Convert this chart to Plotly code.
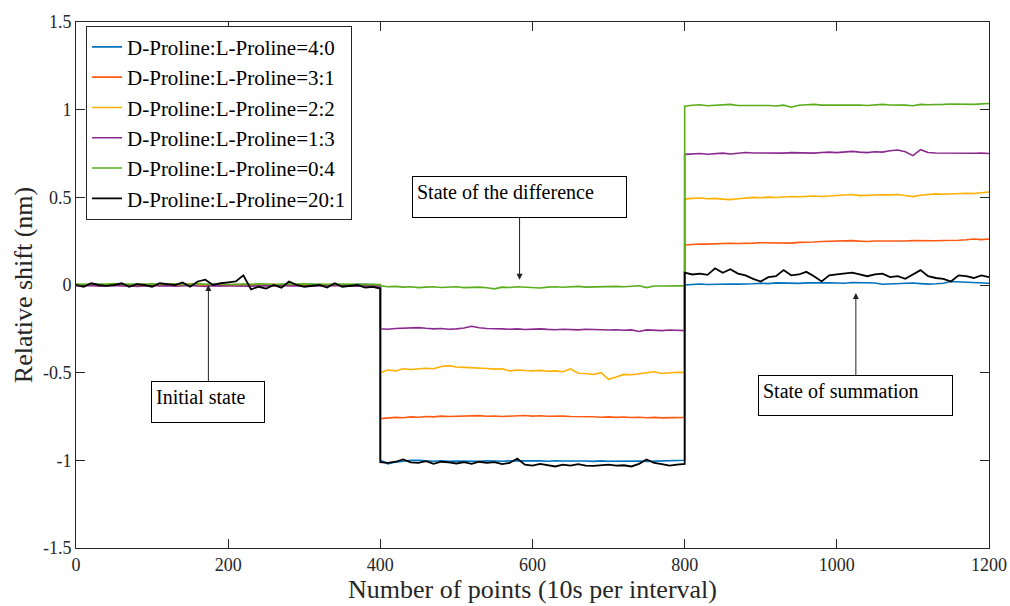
import plotly.graph_objects as go

# x positions (sampled every 10 points), three segments with vertical jumps at 400 and 800
x_seg1 = list(range(0, 401, 10))
x_seg2 = list(range(400, 801, 10))
x_seg3 = list(range(800, 1201, 10))

series_names = [
    "D-Proline:L-Proline=4:0",
    "D-Proline:L-Proline=3:1",
    "D-Proline:L-Proline=2:2",
    "D-Proline:L-Proline=1:3",
    "D-Proline:L-Proline=0:4",
    "D-Proline:L-Proline=20:1",
]
series_colors = ["#0072BD", "#FF5A14", "#FFB000", "#8B2A8E", "#5AAE1E", "#000000"]

# ---- 4:0 (blue)
blue1 = [0.0, 0.003, -0.002, 0.004, 0.001, -0.003, 0.002, 0.0, 0.005, -0.002, 0.003, 0.001, -0.004, 0.002, 0.004, 0.0, -0.003, 0.002, 0.001, -0.005, 0.003, 0.0, 0.002, -0.002, 0.004, 0.001, -0.003, 0.0, 0.003, -0.001, 0.002, 0.005, -0.002, 0.001, 0.003, 0.0, -0.002, 0.004, 0.001, 0.002, 0.0]
blue2 = [-1.0, -1.02, -1.01, -1.005, -1.0, -1.0, -1.003, -1.005, -1.002, -1.006, -1.004, -1.005, -1.003, -1.006, -1.002, -1.004, -1.005, -1.003, -1.002, -1.004, -1.001, -1.003, -1.005, -1.002, -1.004, -1.003, -1.005, -1.004, -1.006, -1.003, -1.005, -1.004, -1.006, -1.005, -1.004, -1.006, -1.005, -1.003, -1.005, -1.004, -1.0]
blue3 = [0.0, 0.004, 0.006, 0.003, 0.005, 0.008, 0.006, 0.005, 0.004, 0.007, 0.01, 0.008, 0.012, 0.01, 0.011, 0.009, 0.012, 0.01, 0.012, 0.013, 0.011, 0.01, 0.014, 0.012, 0.013, 0.011, 0.004, 0.006, 0.01, 0.012, 0.011, 0.008, 0.005, 0.007, 0.01, 0.02, 0.018, 0.012, 0.01, 0.011, 0.01]

# ---- 3:1 (orange)
orange1 = [0.0, -0.003, 0.002, 0.001, -0.002, 0.004, 0.0, -0.004, 0.002, 0.003, -0.001, 0.0, 0.003, -0.002, 0.001, 0.004, 0.0, -0.003, 0.002, 0.001, -0.002, 0.003, 0.0, 0.002, -0.003, 0.001, 0.004, -0.001, 0.0, 0.002, -0.002, 0.001, 0.003, 0.0, -0.003, 0.002, 0.001, -0.001, 0.003, 0.0, -0.002]
orange2 = [-0.762, -0.758, -0.755, -0.757, -0.752, -0.754, -0.75, -0.752, -0.748, -0.75, -0.749, -0.751, -0.748, -0.745, -0.749, -0.747, -0.75, -0.748, -0.745, -0.744, -0.748, -0.746, -0.749, -0.747, -0.748, -0.75, -0.749, -0.752, -0.751, -0.754, -0.752, -0.755, -0.753, -0.756, -0.754, -0.757, -0.755, -0.758, -0.756, -0.754, -0.755]
orange3 = [0.228, 0.232, 0.234, 0.233, 0.236, 0.235, 0.238, 0.237, 0.24, 0.239, 0.241, 0.24, 0.243, 0.241, 0.239, 0.243, 0.242, 0.245, 0.248, 0.25, 0.252, 0.251, 0.253, 0.25, 0.248, 0.251, 0.25, 0.252, 0.249, 0.251, 0.253, 0.252, 0.25, 0.252, 0.254, 0.253, 0.255, 0.258, 0.262, 0.259, 0.262]

# ---- 2:2 (yellow)
yellow1 = [0.002, 0.0, -0.003, 0.002, 0.004, -0.001, 0.001, 0.003, -0.002, 0.0, 0.002, -0.003, 0.001, 0.004, -0.001, 0.002, 0.0, 0.003, -0.002, 0.001, 0.002, -0.003, 0.004, 0.0, 0.001, -0.002, 0.003, 0.002, -0.001, 0.0, 0.003, -0.002, 0.001, 0.004, 0.0, -0.003, 0.002, 0.0, -0.001, 0.002, 0.0]
yellow2 = [-0.5, -0.485, -0.49, -0.478, -0.482, -0.48, -0.475, -0.478, -0.465, -0.46, -0.468, -0.47, -0.472, -0.47, -0.476, -0.48, -0.478, -0.49, -0.485, -0.488, -0.49, -0.487, -0.492, -0.49, -0.495, -0.478, -0.503, -0.505, -0.51, -0.5, -0.538, -0.525, -0.51, -0.512, -0.505, -0.5, -0.495, -0.505, -0.502, -0.498, -0.5]
yellow3 = [0.49, 0.494, 0.496, 0.492, 0.494, 0.49, 0.487, 0.492, 0.497, 0.5, 0.498, 0.501, 0.499, 0.503, 0.505, 0.503, 0.506, 0.508, 0.505, 0.508, 0.51, 0.512, 0.516, 0.51, 0.513, 0.512, 0.515, 0.514, 0.516, 0.51, 0.504, 0.512, 0.516, 0.52, 0.518, 0.521, 0.52, 0.523, 0.522, 0.526, 0.53]

# ---- 1:3 (purple)
purple1 = [-0.004, -0.006, -0.003, -0.007, -0.005, -0.002, -0.006, -0.004, -0.008, -0.005, -0.003, -0.006, -0.004, -0.007, -0.005, -0.003, -0.006, -0.008, -0.004, -0.005, -0.006, -0.003, -0.005, -0.007, -0.004, -0.006, -0.005, -0.003, -0.006, -0.004, -0.007, -0.005, -0.006, -0.004, -0.003, -0.006, -0.005, -0.007, -0.004, -0.006, -0.005]
purple2 = [-0.25, -0.252, -0.248, -0.245, -0.246, -0.243, -0.247, -0.25, -0.248, -0.252, -0.25, -0.245, -0.235, -0.244, -0.248, -0.247, -0.25, -0.252, -0.25, -0.254, -0.252, -0.25, -0.253, -0.255, -0.252, -0.254, -0.256, -0.252, -0.255, -0.254, -0.257, -0.255, -0.258, -0.256, -0.265, -0.256, -0.258, -0.26, -0.257, -0.258, -0.26]
purple3 = [0.745, 0.748, 0.75, 0.746, 0.749, 0.752, 0.747, 0.75, 0.756, 0.753, 0.752, 0.754, 0.75, 0.752, 0.755, 0.753, 0.754, 0.752, 0.756, 0.758, 0.755, 0.76, 0.762, 0.758, 0.755, 0.76, 0.758, 0.766, 0.77, 0.76, 0.738, 0.772, 0.756, 0.753, 0.752, 0.754, 0.75, 0.752, 0.751, 0.752, 0.75]

# ---- 0:4 (green)
green1 = [0.006, 0.004, 0.007, 0.003, 0.005, 0.008, 0.004, 0.006, 0.003, 0.005, 0.007, 0.004, 0.006, 0.005, 0.003, 0.006, 0.008, 0.004, 0.005, 0.007, 0.003, 0.005, 0.006, 0.004, 0.007, 0.005, 0.003, 0.006, 0.004, 0.005, 0.007, 0.004, 0.006, 0.003, 0.005, 0.004, 0.006, 0.003, 0.005, 0.004, 0.002]
green2 = [-0.005, -0.01, -0.008, -0.012, -0.01, -0.015, -0.012, -0.01, -0.014, -0.012, -0.01, -0.015, -0.013, -0.012, -0.016, -0.022, -0.012, -0.014, -0.01, -0.012, -0.015, -0.017, -0.012, -0.01, -0.013, -0.01, -0.008, -0.012, -0.01, -0.009, -0.006, -0.008, -0.01, -0.005, -0.004, -0.015, -0.006, -0.006, -0.004, -0.005, -0.005]
green3 = [1.02, 1.025, 1.028, 1.022, 1.024, 1.027, 1.03, 1.024, 1.025, 1.022, 1.026, 1.024, 1.021, 1.026, 1.014, 1.025, 1.028, 1.03, 1.026, 1.027, 1.028, 1.025, 1.026, 1.027, 1.024, 1.028, 1.03, 1.027, 1.028, 1.026, 1.022, 1.03, 1.028, 1.031, 1.03, 1.032, 1.031, 1.034, 1.03, 1.033, 1.035]

# ---- 20:1 (black)
black1 = [0.0, -0.01, 0.01, 0.0, -0.005, 0.0, 0.01, -0.01, 0.005, 0.0, -0.01, 0.01, 0.005, 0.0, 0.015, -0.01, 0.02, 0.03, 0.0, 0.01, 0.015, 0.02, 0.055, -0.025, -0.01, -0.02, 0.0, -0.015, 0.02, 0.0, -0.01, -0.005, 0.0, -0.015, 0.01, -0.01, -0.005, 0.0, -0.015, -0.01, -0.02]
black2 = [-1.01, -1.015, -1.008, -0.995, -1.012, -1.015, -1.005, -1.02, -1.008, -1.012, -1.018, -1.01, -1.02, -1.008, -1.015, -1.01, -1.022, -1.015, -0.99, -1.025, -1.03, -1.02, -1.028, -1.035, -1.025, -1.03, -1.022, -1.03, -1.032, -1.028, -1.025, -1.03, -1.028, -1.035, -1.02, -0.995, -1.015, -1.022, -1.03, -1.025, -1.02]
black3 = [0.07, 0.06, 0.065, 0.058, 0.095, 0.07, 0.09, 0.065, 0.055, 0.035, 0.02, 0.045, 0.05, 0.085, 0.055, 0.06, 0.075, 0.05, 0.02, 0.055, 0.06, 0.065, 0.07, 0.06, 0.05, 0.06, 0.065, 0.045, 0.05, 0.035, 0.06, 0.085, 0.05, 0.04, 0.035, 0.02, 0.055, 0.05, 0.04, 0.055, 0.045]

segments = [
    (blue1, blue2, blue3),
    (orange1, orange2, orange3),
    (yellow1, yellow2, yellow3),
    (purple1, purple2, purple3),
    (green1, green2, green3),
    (black1, black2, black3),
]

x_tick_vals = [0, 200, 400, 600, 800, 1000, 1200]
y_tick_vals = [-1.5, -1, -0.5, 0, 0.5, 1, 1.5]
y_tick_text = ["-1.5", "-1", "-0.5", "0", "0.5", "1", "1.5"]

FONT = "Liberation Serif, Times New Roman, serif"
AX = "#262626"

x_all = x_seg1 + x_seg2 + x_seg3
fig = go.Figure()
for name, color, (s1, s2, s3) in zip(series_names, series_colors, segments):
    fig.add_trace(go.Scatter(
        x=x_all, y=s1 + s2 + s3, mode="lines", name=name,
        line=dict(color=color, width=1.8 if color == "#000000" else 1.6),
    ))

axis_common = dict(
    showgrid=False, zeroline=False, showline=True, linecolor=AX, linewidth=1,
    mirror="allticks", ticks="inside", ticklen=9, tickcolor=AX, tickwidth=1,
    tickfont=dict(family=FONT, size=18, color=AX), automargin=False,
)
fig.update_xaxes(range=[0, 1200], tickvals=x_tick_vals, **axis_common,
                 title=dict(text="Number of points (10s per interval)",
                            font=dict(family=FONT, size=26, color=AX), standoff=4))
fig.update_yaxes(range=[-1.5, 1.5], tickvals=y_tick_vals, ticktext=y_tick_text, **axis_common,
                 title=dict(text="Relative shift (nm)",
                            font=dict(family=FONT, size=26, color=AX), standoff=2))

ann_font = dict(family=FONT, size=20, color="black")
ann_common = dict(showarrow=True, arrowhead=2, arrowsize=1.2, arrowwidth=1, arrowcolor="#222",
                  axref="pixel", ayref="pixel", bordercolor="black", borderwidth=1,
                  borderpad=4, bgcolor="white", align="left", valign="top", font=ann_font,
                  xanchor="center", yanchor="middle")
fig.add_annotation(x=583, y=0.03, ax=0, ay=-83, text="State of the difference",
                   width=205, height=32, **ann_common)
fig.add_annotation(x=174, y=0.0, ax=0, ay=117, text="Initial state",
                   width=104, height=32, **ann_common)
fig.add_annotation(x=1025, y=-0.046, ax=0, ay=102, text="State of summation",
                   width=185, height=31, **ann_common)

fig.update_layout(
    width=1010, height=606,
    margin=dict(l=76, r=21, t=22, b=58),
    paper_bgcolor="white", plot_bgcolor="white",
    font=dict(family=FONT, color=AX),
    legend=dict(x=0.011, y=0.993, xanchor="left", yanchor="top",
                bgcolor="white", bordercolor=AX, borderwidth=1,
                font=dict(family=FONT, size=21, color="black"),
                itemwidth=30, tracegroupgap=0),
    showlegend=True,
)

fig.write_html("out.html")
